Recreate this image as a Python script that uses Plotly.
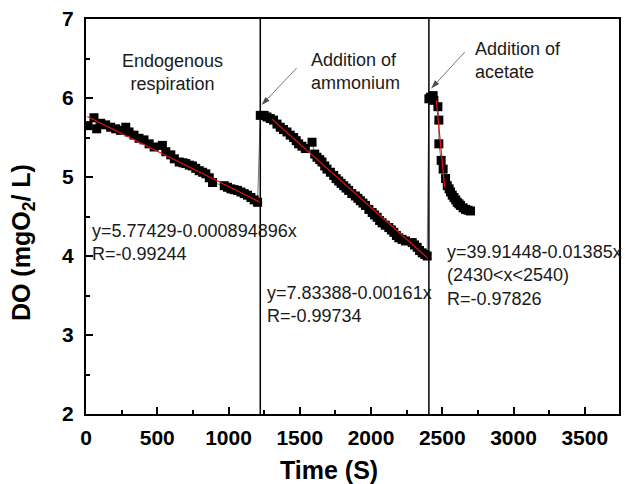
import plotly.graph_objects as go

time_s = [14, 56, 75, 103, 138, 173, 208, 243, 279, 302, 337, 372, 407, 443, 478, 536, 560,
          595, 620, 654, 680, 700, 725, 747, 770, 794, 818, 841, 865, 888, 970, 993, 1017,
          1040, 1063, 1087, 1110, 1133, 1157, 1180, 1204,
          1223, 1250, 1270, 1293, 1316, 1340, 1363, 1386, 1410, 1433, 1457, 1475, 1492, 1515,
          1539, 1586, 1605, 1621, 1640, 1656, 1675, 1691, 1715, 1738, 1755, 1773, 1790, 1808,
          1825, 1843, 1865, 1890, 1908, 1925, 1943, 1961, 1985, 2008, 2025, 2043, 2060, 2078,
          2100, 2125, 2143, 2160, 2178, 2195, 2218, 2242, 2289, 2305, 2324, 2340, 2359, 2377,
          2394,
          2406, 2418, 2436, 2441, 2469, 2476, 2476, 2492, 2506, 2523, 2535, 2548, 2558,
          2570, 2582, 2594, 2605, 2617, 2628, 2646, 2663, 2680, 2698]
do_mg = [5.65, 5.75, 5.61, 5.68, 5.66, 5.63, 5.61, 5.59, 5.63, 5.57, 5.53, 5.49, 5.47, 5.42,
         5.38, 5.40, 5.32, 5.28, 5.23, 5.19, 5.18, 5.17, 5.15, 5.14, 5.11, 5.08, 5.06, 5.04,
         4.99, 4.93, 4.89, 4.87, 4.85, 4.84, 4.83, 4.81, 4.79, 4.77, 4.74, 4.71, 4.68,
         5.78, 5.78, 5.76, 5.74, 5.72, 5.67, 5.63, 5.60, 5.57, 5.53, 5.50, 5.46, 5.42, 5.39,
         5.36, 5.44, 5.29, 5.25, 5.22, 5.19, 5.14, 5.10, 5.06, 5.02, 4.98, 4.95, 4.92, 4.89,
         4.86, 4.83, 4.79, 4.76, 4.73, 4.70, 4.67, 4.64, 4.59, 4.55, 4.52, 4.49, 4.45, 4.42,
         4.39, 4.36, 4.33, 4.30, 4.26, 4.23, 4.21, 4.19, 4.17, 4.14, 4.11, 4.07, 4.04, 4.02,
         4.00,
         5.99, 6.01, 6.03, 5.97, 5.89, 5.72, 5.42, 5.21, 5.10, 4.98, 4.89, 4.85, 4.81,
         4.77, 4.74, 4.71, 4.68, 4.66, 4.64, 4.61, 4.59, 4.58, 4.57]

# Linear fits (endpoints)
fit1_x = [9, 1220]
fit1_y = [5.766, 4.682]
fit2_x = [1305, 2400]
fit2_y = [5.733, 3.970]
fit3_x = [2458, 2517]
fit3_y = [5.97, 4.87]

# Event lines (time of addition)
event_x = [1223, 2406]

# Pointer arrows (tail -> head)
arrow1_x = [1478, 1232]
arrow1_y = [6.379, 5.91]
arrow2_x = [2658, 2422]
arrow2_y = [6.582, 6.12]

x_ticks = [0, 500, 1000, 1500, 2000, 2500, 3000, 3500]
y_ticks = [2, 3, 4, 5, 6, 7]

FONT = "Liberation Sans, Arial, sans-serif"

fig = go.Figure()
fig.add_trace(go.Scatter(x=time_s, y=do_mg, mode="lines+markers",
                         line=dict(color="#777777", width=1),
                         marker=dict(symbol="square", size=9, color="black"),
                         showlegend=False))
for fx, fy in [(fit1_x, fit1_y), (fit2_x, fit2_y), (fit3_x, fit3_y)]:
    fig.add_trace(go.Scatter(x=fx, y=fy, mode="lines",
                             line=dict(color="#ee1111", width=1.2), showlegend=False))

for axx, ayy in [(arrow1_x, arrow1_y), (arrow2_x, arrow2_y)]:
    fig.add_trace(go.Scatter(x=axx, y=ayy, mode="lines+markers",
                             line=dict(color="#555555", width=0.8),
                             marker=dict(symbol=["circle", "arrow"], size=[0, 9], color="black",
                                         angleref="previous", line=dict(width=0)),
                             showlegend=False, hoverinfo="skip"))

for ex in event_x:
    fig.add_shape(type="line", x0=ex, x1=ex, y0=2, y1=7, xref="x", yref="y",
                  line=dict(color="black", width=1.5))

txt = dict(family=FONT, size=18, color="#1a1a1a")
anns = [
    dict(x=610, y=6.32, text="Endogenous<br>respiration", xanchor="center"),
    dict(x=1564, y=6.335, text="Addition of<br>ammonium", xanchor="left"),
    dict(x=2714, y=6.474, text="Addition of<br>acetate", xanchor="left"),
    dict(x=28, y=4.177, text="y=5.77429-0.000894896x<br>R=-0.99244", xanchor="left"),
    dict(x=1255, y=3.388, text="y=7.83388-0.00161x<br>R=-0.99734", xanchor="left"),
    dict(x=2522, y=3.755, text="y=39.91448-0.01385x<br>(2430<x<2540)<br>R=-0.97826", xanchor="left"),
]
for a in anns:
    fig.add_annotation(x=a["x"], y=a["y"], text=a["text"], xanchor=a["xanchor"],
                       yanchor="middle", align="left" if a["xanchor"] == "left" else "center",
                       showarrow=False, font=txt, xref="x", yref="y")

# Axis titles placed as annotations
fig.add_annotation(x=-0.118, y=0.433, xref="paper", yref="paper",
                   text="DO (mgO<sub>2</sub>/ L)", textangle=-90, showarrow=False,
                   xanchor="center", yanchor="middle",
                   font=dict(family=FONT, size=25, weight="bold", color="black"))
fig.add_annotation(x=0.456, y=-0.142, xref="paper", yref="paper",
                   text="Time (S)", showarrow=False,
                   xanchor="center", yanchor="middle",
                   font=dict(family=FONT, size=25, weight="bold", color="black"))

fig.update_layout(
    width=625, height=484,
    margin=dict(l=86, r=6, t=19, b=70),
    paper_bgcolor="white", plot_bgcolor="white",
    font=dict(family=FONT, color="black"),
    xaxis=dict(range=[0, 3740], tickvals=x_ticks, ticks="inside", ticklen=7, tickwidth=1.5,
               tickcolor="black", showline=True, linecolor="black", linewidth=2, mirror=True,
               showgrid=False, zeroline=False, ticklabelstandoff=4, automargin=False,
               minor=dict(dtick=250, ticks="inside", ticklen=4, tickwidth=1.5, tickcolor="black"),
               tickfont=dict(family=FONT, size=21, weight="bold", color="black")),
    yaxis=dict(range=[2, 7], tickvals=y_ticks, ticks="inside", ticklen=7, tickwidth=1.5,
               tickcolor="black", showline=True, linecolor="black", linewidth=2, mirror=True,
               showgrid=False, zeroline=False, ticklabelstandoff=6, automargin=False,
               minor=dict(dtick=0.5, ticks="inside", ticklen=4, tickwidth=1.5, tickcolor="black"),
               tickfont=dict(family=FONT, size=21, weight="bold", color="black")),
)

fig.write_html("out.html")
